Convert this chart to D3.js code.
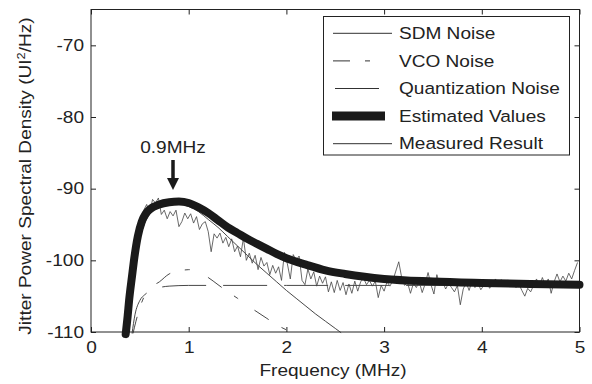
<!DOCTYPE html>
<html lang="en">
<head>
    <meta charset="UTF-8">
    <title>Jitter PSD</title>
    <script src="https://cdn.jsdelivr.net/npm/d3@7/dist/d3.min.js"></script>
    <style>
        body, html {
            margin: 0;
            padding: 0;
            background: #fff;
            overflow: hidden;
        }
        svg {
            display: block;
            font-family: "Liberation Sans", Arial, sans-serif;
        }
    </style>
</head>
<body>
    <svg id="mainsvg"></svg>
    <script>
        const width = 592;
        const height = 384;

        // axis ticks
        const xTicks = [0, 1, 2, 3, 4, 5];
        const yTicks = [-110, -100, -90, -80, -70];

        // Estimated Values (thick curve)
        const estFreq = [0.355, 0.375, 0.39, 0.42, 0.44, 0.48, 0.52, 0.56, 0.6, 0.7, 0.8, 0.9, 1.0, 1.1, 1.2, 1.3, 1.4, 1.5, 1.6, 1.7, 1.8, 1.9, 2.0, 2.2, 2.4, 2.6, 2.8, 3.0, 3.5, 4.0, 4.5, 5.0];
        const estVal = [-110.3, -107.8, -105.6, -102.2, -100, -96.6, -94.6, -93.5, -92.9, -92.2, -91.9, -91.8, -92.0, -92.6, -93.4, -94.4, -95.4, -96.2, -97.0, -97.7, -98.4, -99.1, -99.7, -100.6, -101.4, -101.9, -102.3, -102.6, -102.95, -103.15, -103.3, -103.4];

        // SDM Noise
        const sdmFreq = [0.36, 0.4, 0.45, 0.5, 0.55, 0.6, 0.7, 0.8, 0.9, 1.0, 1.1, 1.2, 1.3, 1.4, 1.5, 1.6, 1.7, 1.8, 1.9, 2.0, 2.1, 2.2, 2.3, 2.4, 2.5, 2.56];
        const sdmVal = [-110.3, -105.5, -100.5, -97.0, -94.8, -93.6, -92.6, -92.2, -92.2, -92.5, -93.2, -94.3, -95.4, -96.7, -98.0, -99.3, -100.6, -101.8, -103.0, -104.2, -105.3, -106.4, -107.5, -108.5, -109.5, -110.1];

        // VCO Noise
        const vcoFreq = [0.43, 0.46, 0.5, 0.55, 0.6, 0.7, 0.8, 0.9, 1.0, 1.1, 1.2, 1.3, 1.4, 1.5, 1.6, 1.7, 1.8, 1.9, 2.0, 2.08];
        const vcoVal = [-110.2, -108.5, -106.6, -104.9, -103.9, -103.0, -101.9, -101.5, -101.3, -101.6, -102.4, -103.4, -104.4, -105.3, -106.3, -107.2, -108.1, -109.0, -109.7, -110.2];

        // Quantization Noise
        const quaFreq = [0.42, 0.45, 0.5, 0.55, 0.6, 0.7, 0.8, 1.0, 2.0, 3.0, 4.0, 5.0];
        const quaVal = [-110.2, -107.6, -105.6, -104.8, -104.3, -103.8, -103.6, -103.5, -103.5, -103.5, -103.5, -103.5];

        // Measured Result, sampled every 0.03 MHz from 0.33 MHz
        const measStart = 0.33;
        const measStep = 0.03;
        const measVal = [
            -110, -108.0, -105.5, -102.5, -99.0, -96.8, -95.0, -93.0, -92.2, -93.5,
            -91.5, -92.0, -91.3, -93.6, -93.0, -94.2, -93.2, -93.8, -93.0, -95.3,
            -94.6, -93.4, -94.2, -93.5, -94.8, -93.9, -95.7, -94.9, -94.6, -96.0,
            -98.8, -96.3, -96.9, -96.2, -97.6, -96.8, -98.1, -97.0, -98.8, -98.0,
            -99.5, -96.9, -100.0, -99.0, -100.4, -99.3, -101.3, -99.6, -100.8, -100.3,
            -102.0, -100.7, -101.8, -100.9, -102.8, -98.9, -100.5, -102.6, -99.2, -100.0,
            -99.4, -102.8, -103.4, -101.2, -102.6, -101.6, -103.6, -102.2, -103.2, -102.3,
            -104.4, -103.0, -104.5, -102.8, -104.2, -103.1, -104.8, -103.3, -104.6, -102.9,
            -104.3, -103.0, -102.5, -103.4, -102.8, -103.6, -102.9, -105.2, -103.5, -104.3,
            -103.0, -103.6, -102.8, -101.5, -100.2, -102.4, -103.5, -103.1, -104.6, -103.2,
            -103.8, -103.0, -104.5, -103.3, -101.7, -103.4, -104.7, -102.0, -103.5, -103.0,
            -104.0, -103.2, -103.8, -104.4, -103.5, -106.2, -104.0, -103.1, -104.2, -102.9,
            -103.8, -103.2, -104.1, -103.5, -103.0, -103.9, -103.3, -102.6, -103.4, -102.7,
            -103.2, -102.8, -103.6, -103.2, -103.8, -103.3, -104.2, -105.0, -103.9, -104.4,
            -103.5, -102.6, -103.6, -102.4, -103.5, -102.6, -104.6, -103.0, -101.9, -103.0,
            -102.2, -102.9, -101.8, -102.6, -101.4, -100.3
        ];

        const legendLabels = ["SDM Noise", "VCO Noise", "Quantization Noise", "Estimated Values", "Measured Result"];

        const svg = d3.select("#mainsvg")
            .attr("width", width)
            .attr("height", height);

        const plotL = 91, plotR = 579.5, plotT = 9.5, plotB = 332;
        const x = d3.scaleLinear().domain([0, 5]).range([plotL, plotR]);
        const y = d3.scaleLinear().domain([-110, -65]).range([plotB, plotT]);

        const ink = "#222";
        const fontSize = "16.3px";
        const stretch = 1.17; // the original lettering is wide

        // axes (inward ticks)
        const fmt = d => String(d);
        const gx = svg.append("g").attr("transform", `translate(0,${plotB})`)
            .call(d3.axisBottom(x).tickValues(xTicks).tickFormat(fmt).tickSize(-5).tickSizeOuter(0).tickPadding(9));
        const gxTop = svg.append("g").attr("transform", `translate(0,${plotT})`)
            .call(d3.axisTop(x).tickValues(xTicks).tickSize(-5).tickSizeOuter(0).tickFormat(""));
        const gy = svg.append("g").attr("transform", `translate(${plotL},0)`)
            .call(d3.axisLeft(y).tickValues(yTicks).tickFormat(fmt).tickSize(-5).tickSizeOuter(0).tickPadding(6));
        const gyRight = svg.append("g").attr("transform", `translate(${plotR},0)`)
            .call(d3.axisRight(y).tickValues(yTicks).tickSize(-5).tickSizeOuter(0).tickFormat(""));

        [gx, gxTop, gy, gyRight].forEach(g => {
            g.select(".domain").remove();
            g.selectAll(".tick line").attr("stroke", ink);
            g.selectAll(".tick text")
                .attr("fill", ink)
                .attr("transform", `scale(${stretch},1)`)
                .style("font-size", fontSize)
                .style("font-family", "'Liberation Sans', Arial, sans-serif");
        });

        svg.append("rect")
            .attr("x", plotL).attr("y", plotT)
            .attr("width", plotR - plotL).attr("height", plotB - plotT)
            .attr("fill", "none").attr("stroke", ink).attr("stroke-width", 1);

        // axis titles
        svg.append("text")
            .attr("transform", `translate(333,376) scale(${stretch},1)`)
            .attr("text-anchor", "middle")
            .attr("fill", ink)
            .style("font-size", fontSize)
            .text("Frequency (MHz)");

        const yl = svg.append("text")
            .attr("transform", `translate(31,176) rotate(-90) scale(${stretch},1)`)
            .attr("text-anchor", "middle")
            .attr("fill", ink)
            .style("font-size", fontSize);
        yl.append("tspan").text("Jitter Power Spectral Density (UI");
        yl.append("tspan").attr("dy", -6).style("font-size", "11px").text("2");
        yl.append("tspan").attr("dy", 6).text("/Hz)");

        // curves
        const smooth = d3.line()
            .x(d => x(d[0]))
            .y(d => y(d[1]))
            .curve(d3.curveMonotoneX);
        const straight = d3.line()
            .x(d => x(d[0]))
            .y(d => y(d[1]));

        const zip = (fs, vs) => fs.map((f, i) => [f, vs[i]]);
        const measured = measVal.map((v, i) => [measStart + measStep * i, v]);

        const plot = svg.append("g").attr("fill", "none");

        plot.append("path")
            .attr("d", smooth(zip(quaFreq, quaVal)))
            .attr("stroke", "#333").attr("stroke-width", 0.9)
            .attr("stroke-dasharray", "44,17");

        plot.append("path")
            .attr("d", smooth(zip(vcoFreq, vcoVal)))
            .attr("stroke", "#333").attr("stroke-width", 0.9)
            .attr("stroke-dasharray", "17,15,5,20");

        plot.append("path")
            .attr("d", smooth(zip(sdmFreq, sdmVal)))
            .attr("stroke", "#333").attr("stroke-width", 0.9);

        plot.append("path")
            .attr("d", straight(measured))
            .attr("stroke", "#444").attr("stroke-width", 0.8)
            .attr("stroke-linejoin", "round");

        plot.append("path")
            .attr("d", smooth(zip(estFreq, estVal)))
            .attr("stroke", "#1a1a1a").attr("stroke-width", 8)
            .attr("stroke-linecap", "round")
            .attr("stroke-linejoin", "round");

        // annotation
        svg.append("text")
            .attr("transform", `translate(173,153) scale(${stretch},1)`)
            .attr("text-anchor", "middle")
            .attr("fill", ink)
            .style("font-size", fontSize)
            .text("0.9MHz");
        svg.append("line")
            .attr("x1", 173).attr("x2", 173)
            .attr("y1", 160).attr("y2", 180)
            .attr("stroke", "#1a1a1a").attr("stroke-width", 3.5);
        svg.append("path")
            .attr("d", "M167,178 L179,178 L173,190 Z")
            .attr("fill", "#1a1a1a");

        // legend
        const lg = svg.append("g");
        lg.append("rect")
            .attr("x", 323.5).attr("y", 16.5)
            .attr("width", 246).attr("height", 138.5)
            .attr("fill", "#fff").attr("stroke", ink).attr("stroke-width", 1);

        const legendStyle = [
            { w: 0.9, dash: null, x1: 333, x2: 392 },
            { w: 0.9, dash: "17,15,5,20", x1: 333, x2: 390 },
            { w: 0.9, dash: "44,17", x1: 335, x2: 392 },
            { w: 9, dash: null, x1: 332, x2: 385 },
            { w: 0.9, dash: null, x1: 333, x2: 392 }
        ];

        legendLabels.forEach((label, i) => {
            const ly = 33.3 + 27.6 * i;
            const s = legendStyle[i];
            lg.append("line")
                .attr("x1", s.x1).attr("x2", s.x2)
                .attr("y1", ly).attr("y2", ly)
                .attr("stroke", "#1a1a1a")
                .attr("stroke-width", s.w)
                .attr("stroke-dasharray", s.dash);
            lg.append("text")
                .attr("transform", `translate(399,${ly + 5.6}) scale(${stretch},1)`)
                .attr("fill", ink)
                .style("font-size", fontSize)
                .text(label);
        });
    </script>
</body>
</html>
